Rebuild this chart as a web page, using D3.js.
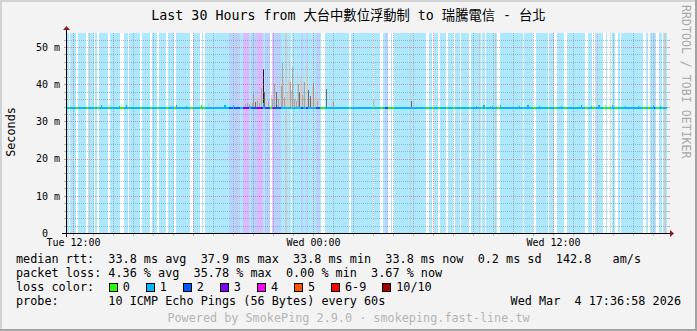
<!DOCTYPE html>
<html>
<head>
<meta charset="utf-8">
<script src="https://cdn.jsdelivr.net/npm/d3@7"></script>
<style>
html, body { margin: 0; padding: 0; background: #f3f3f3; }
svg { display: block; }
text { font-family: "DejaVu Sans Mono", "Noto Sans CJK TC", monospace; white-space: pre; }
</style>
</head>
<body>
<svg width="697" height="331"></svg>
<script>
'use strict';

const chartTitle = 'Last 30 Hours from 大台中數位浮動制 to 瑞騰電信 - 台北';
const yAxisLabel = 'Seconds';
const watermark = 'RRDTOOL / TOBI OETIKER';
const footer = 'Powered by SmokePing 2.9.0 · smokeping.fast-line.tw';
const stamp = 'Wed Mar  4 17:36:58 2026';

// one sample every 3 minutes over 30 hours
const startTime = new Date(2026, 2, 3, 11, 42);
const stepMinutes = 3;
const sampleCount = 600;

const yTop = 53.76;               // ms at top of plot
const yLabelTicks = [0, 10, 20, 30, 40, 50];
const medianMs = 33.8;

// lost pings (of 10) -> colour
const lossColors = ['#26ff00', '#00b8ff', '#0059ff', '#7e00ff', '#ff00ff', '#ff5500',
                    '#ff0000', '#ff0000', '#ff0000', '#ff0000', '#a10000'];
const legendLabels = ['0', '1', '2', '3', '4', '5', '6-9', '10/10'];
const legendLoss = [0, 1, 2, 3, 4, 5, 6, 10];

// [first sample, last sample, lost pings]; every other sample lost 1 of 10
const lossRuns = [
  [2, 2, 0], [9, 10, 0], [19, 20, 0], [27, 27, 0], [30, 31, 0], [41, 42, 0],
  [53, 56, 0], [61, 61, 0], [73, 74, 0], [83, 84, 0], [90, 91, 0], [99, 100, 0],
  [107, 108, 0], [123, 125, 0], [133, 134, 0], [136, 137, 0],
  [162, 165, 2], [167, 172, 2], [176, 181, 3], [184, 189, 2], [190, 195, 3],
  [198, 202, 2], [203, 204, 0], [205, 205, 4], [206, 213, 2], [224, 224, 0],
  [234, 235, 2], [239, 240, 2], [249, 252, 2], [254, 257, 0],
  [282, 283, 0], [306, 306, 0], [313, 315, 0], [318, 320, 2], [321, 323, 0],
  [325, 326, 0], [359, 361, 0], [365, 366, 0], [371, 372, 0], [379, 380, 0],
  [386, 387, 0], [393, 393, 0], [402, 403, 0], [414, 414, 0], [418, 418, 0],
  [430, 432, 0], [456, 456, 0], [466, 468, 0], [481, 481, 0], [487, 489, 0],
  [497, 499, 0], [518, 520, 0], [525, 527, 0], [536, 538, 0], [540, 542, 0],
  [544, 544, 0], [548, 550, 0], [553, 553, 0], [576, 578, 0], [581, 582, 0],
  [587, 587, 2], [589, 591, 0], [595, 595, 0]
];

// samples whose median sits a little above the usual 33.8 ms
const medianBumps = [
  [34, 34.3], [52, 34.2], [59, 34.3], [104, 34.2], [109, 34.3], [119, 34.2],
  [134, 34.3], [157, 34.3], [158, 34.4], [166, 34.3], [183, 34.2], [196, 35.0],
  [209, 34.4], [409, 34.2], [416, 34.4], [417, 34.4], [425, 34.2], [433, 34.3],
  [452, 34.2], [460, 34.3], [461, 34.3], [472, 34.2], [494, 34.2], [514, 34.3],
  [524, 34.2], [531, 34.4], [532, 34.4], [545, 34.3], [558, 34.2], [571, 34.2],
  [586, 34.3], [593, 34.2]
];

// smoke: [sample, highest ping ms, shade 0 light .. 3 black]
const smokeTops = [
  [11, 34.6, 0], [42, 34.4, 0], [141, 35.0, 0], [142, 34.8, 0], [150, 34.3, 0], [158, 34.5, 0],
  [166, 34.6, 0], [174, 35.2, 0], [178, 34.8, 1], [179, 35.8, 0], [180, 35.0, 1], [182, 34.6, 1],
  [184, 36.0, 0], [185, 35.0, 1], [186, 37.3, 1], [187, 36.5, 0], [188, 35.2, 2], [189, 36.8, 0],
  [190, 35.5, 1], [191, 37.0, 0], [192, 35.0, 1], [193, 35.8, 0], [194, 38.9, 1], [195, 36.5, 0],
  [196, 44.2, 3], [197, 38.0, 2], [198, 39.0, 0], [199, 35.0, 0], [200, 36.0, 0], [201, 35.5, 1],
  [204, 37.0, 0], [205, 36.0, 1], [207, 40.0, 1], [208, 41.5, 0], [209, 38.0, 2], [210, 37.0, 0],
  [211, 36.0, 1], [212, 35.0, 0], [213, 43.0, 0], [214, 39.5, 1], [215, 45.7, 1], [216, 41.0, 0],
  [217, 36.5, 1], [220, 38.0, 0], [221, 41.0, 0], [222, 46.5, 0], [223, 40.5, 1], [224, 38.5, 0],
  [225, 44.5, 1], [226, 37.5, 0], [227, 36.0, 1], [228, 36.5, 0], [229, 35.5, 1], [230, 43.0, 0],
  [231, 40.0, 1], [232, 38.0, 2], [233, 42.0, 0], [234, 43.5, 0], [235, 37.0, 1], [236, 39.5, 0],
  [237, 40.5, 1], [238, 36.0, 0], [239, 44.0, 0], [240, 46.0, 0], [241, 38.5, 2], [242, 36.0, 0],
  [243, 36.7, 2], [244, 35.5, 0], [245, 39.6, 0], [246, 40.3, 1], [247, 36.0, 0], [248, 38.0, 0],
  [249, 38.7, 0], [250, 35.5, 1], [251, 36.5, 0], [253, 34.8, 0], [259, 38.7, 2], [264, 35.0, 0],
  [265, 36.0, 0], [266, 35.2, 1], [306, 35.9, 0], [307, 35.5, 0], [344, 35.6, 2], [347, 35.0, 0],
  [452, 35.0, 0], [538, 34.5, 0], [572, 34.5, 0]
];
const smokeShades = ['#cdcdcd', '#a6a6a6', '#6e6e6e', '#1e1e1e'];

// samples with a ping beyond the top of the graph
const offScaleSamples = [22, 169, 218, 219, 343, 412, 428, 530, 584, 597, 598];

const statLines = [
  'median rtt:  33.8 ms avg  37.9 ms max  33.8 ms min  33.8 ms now  0.2 ms sd  142.8   am/s',
  'packet loss: 4.36 % avg  35.78 % max  0.00 % min  3.67 % now',
  'loss color:',
  'probe:       10 ICMP Echo Pings (56 Bytes) every 60s'
];

const svg = d3.select('svg');
const width = +svg.attr('width');
const height = +svg.attr('height');

const plot = { left: 67, top: 33, width: 600, height: 200 };
const plotRight = plot.left + plot.width;
const plotBottom = plot.top + plot.height;

const endTime = d3.timeMinute.offset(startTime, stepMinutes * sampleCount);
const x = d3.scaleTime().domain([startTime, endTime]).range([plot.left, plotRight]);
const y = d3.scaleLinear().domain([0, yTop]).range([plotBottom, plot.top]);

const samples = d3.range(sampleCount).map(i => ({
  i: i,
  t: d3.timeMinute.offset(startTime, i * stepMinutes),
  loss: 1,
  median: medianMs
}));
lossRuns.forEach(([a, b, l]) => { for (let i = a; i <= b; i++) samples[i].loss = l; });
medianBumps.forEach(([i, m]) => { samples[i].median = m; });

const colX = i => x(samples[i].t);
const colW = i => x(d3.timeMinute.offset(samples[i].t, stepMinutes)) - x(samples[i].t);

// frame
svg.append('rect').attr('width', width).attr('height', height).attr('fill', '#f3f3f3');
svg.append('rect').attr('x', 0).attr('y', 0).attr('width', width).attr('height', 2).attr('fill', '#d2d2d2');
svg.append('rect').attr('x', 0).attr('y', 0).attr('width', 2).attr('height', height).attr('fill', '#d2d2d2');
svg.append('rect').attr('x', 0).attr('y', height - 2).attr('width', width).attr('height', 2).attr('fill', '#a3a3a3');
svg.append('rect').attr('x', width - 2).attr('y', 0).attr('width', 2).attr('height', height).attr('fill', '#a3a3a3');

// canvas
svg.append('rect')
    .attr('x', plot.left).attr('y', plot.top)
    .attr('width', plot.width).attr('height', plot.height)
    .attr('fill', '#ffffff');

// loss background
svg.append('g')
  .selectAll('rect')
  .data(samples.filter(d => d.loss > 0))
  .enter()
  .append('rect')
    .attr('x', d => colX(d.i))
    .attr('width', d => colW(d.i))
    .attr('y', plot.top)
    .attr('height', plot.height)
    .attr('fill', d => lossColors[d.loss])
    .attr('fill-opacity', d => d.loss > 1 ? 0.28 : 0.32)
    .attr('shape-rendering', 'crispEdges');

// off-scale smoke columns
svg.append('g')
  .selectAll('rect')
  .data(offScaleSamples)
  .enter()
  .append('rect')
    .attr('x', d => colX(d))
    .attr('width', d => colW(d))
    .attr('y', plot.top)
    .attr('height', plot.height)
    .attr('fill', '#c8c8c8')
    .attr('fill-opacity', 0.8)
    .attr('shape-rendering', 'crispEdges');

// smoke
svg.append('g')
  .selectAll('rect')
  .data(smokeTops)
  .enter()
  .append('rect')
    .attr('x', d => colX(d[0]))
    .attr('width', d => colW(d[0]))
    .attr('y', d => y(d[1]))
    .attr('height', d => y(samples[d[0]].median) - y(d[1]))
    .attr('fill', d => smokeShades[d[2]])
    .attr('shape-rendering', 'crispEdges');

// grid
const minorGrid = 'rgba(130,130,130,0.5)';
const majorGrid = 'rgba(215,60,60,0.5)';
const yGridVals = d3.range(2, yTop, 2);
const hours = d3.timeHour.range(startTime, endTime);
const isMajorY = v => v % 10 === 0;
const isMajorX = t => t.getHours() % 6 === 0;

const grid = svg.append('g').attr('shape-rendering', 'crispEdges');
grid.selectAll('.hgrid')
  .data(yGridVals)
  .enter()
  .append('line')
    .attr('class', 'hgrid')
    .attr('x1', plot.left).attr('x2', plotRight)
    .attr('y1', d => Math.round(y(d)) + 0.5).attr('y2', d => Math.round(y(d)) + 0.5)
    .attr('stroke', d => isMajorY(d) ? majorGrid : minorGrid)
    .attr('stroke-dasharray', '1,1');
grid.selectAll('.htick')
  .data(yGridVals.concat(yGridVals))
  .enter()
  .append('line')
    .attr('class', 'htick')
    .attr('x1', (d, i) => i < yGridVals.length ? plot.left - 3 : plotRight)
    .attr('x2', (d, i) => i < yGridVals.length ? plot.left : plotRight + 3)
    .attr('y1', d => Math.round(y(d)) + 0.5).attr('y2', d => Math.round(y(d)) + 0.5)
    .attr('stroke', d => isMajorY(d) ? majorGrid : minorGrid);
grid.selectAll('.vgrid')
  .data(hours)
  .enter()
  .append('line')
    .attr('class', 'vgrid')
    .attr('y1', plot.top).attr('y2', plotBottom)
    .attr('x1', d => Math.round(x(d)) + 0.5).attr('x2', d => Math.round(x(d)) + 0.5)
    .attr('stroke', d => isMajorX(d) ? majorGrid : minorGrid)
    .attr('stroke-dasharray', '1,1');
grid.selectAll('.vtick')
  .data(hours)
  .enter()
  .append('line')
    .attr('class', 'vtick')
    .attr('y1', plotBottom)
    .attr('y2', plotBottom + 3)
    .attr('x1', d => Math.round(x(d)) + 0.5).attr('x2', d => Math.round(x(d)) + 0.5)
    .attr('stroke', d => isMajorX(d) ? majorGrid : minorGrid);

// median rtt, coloured by loss
svg.append('g')
  .selectAll('rect')
  .data(samples)
  .enter()
  .append('rect')
    .attr('x', d => colX(d.i))
    .attr('width', d => colW(d.i))
    .attr('y', d => Math.round(y(d.median)))
    .attr('height', d => Math.round(y(medianMs)) + 2 - Math.round(y(d.median)))
    .attr('fill', d => lossColors[d.loss])
    .attr('shape-rendering', 'crispEdges');

// axes
const axisG = svg.append('g').attr('shape-rendering', 'crispEdges');
axisG.append('line')
    .attr('x1', plot.left - 5).attr('x2', plotRight + 4)
    .attr('y1', plotBottom + 0.5).attr('y2', plotBottom + 0.5)
    .attr('stroke', '#000');
axisG.append('line')
    .attr('x1', plot.left - 0.5).attr('x2', plot.left - 0.5)
    .attr('y1', plotBottom + 4).attr('y2', plot.top - 4)
    .attr('stroke', '#000');
svg.append('path')
    .attr('d', `M${plotRight + 3},${plotBottom - 3}L${plotRight + 7},${plotBottom + 0.5}L${plotRight + 3},${plotBottom + 4}Z`)
    .attr('fill', '#8b1a1a');
svg.append('path')
    .attr('d', `M${plot.left - 4},${plot.top - 3}L${plot.left - 0.5},${plot.top - 7}L${plot.left + 3},${plot.top - 3}Z`)
    .attr('fill', '#8b1a1a');

const labelTimes = hours.filter(t => t.getHours() % 12 === 0);
const xAxis = svg.append('g')
    .attr('transform', `translate(0,${plotBottom})`)
    .call(d3.axisBottom(x).tickValues(labelTimes).tickFormat(d3.timeFormat('%a %H:%M')).tickSize(0).tickPadding(6));
xAxis.select('.domain').remove();
xAxis.attr('font-family', null);
xAxis.selectAll('text')
    .style('font-size', '10px')
    .attr('fill', '#000');

// the zero label has no unit; rrdtool leaves the unit's room blank
const yAxis = svg.append('g')
    .attr('transform', `translate(${plot.left},0)`)
    .call(d3.axisLeft(y).tickValues(yLabelTicks).tickFormat(v => v === 0 ? '0' : v + ' m').tickSize(0).tickPadding(7));
yAxis.select('.domain').remove();
yAxis.attr('font-family', null);
yAxis.selectAll('text')
    .style('font-size', '10px')
    .attr('fill', '#000')
    .attr('dx', d => d === 0 ? -12 : 0);

// titles
svg.append('text')
    .attr('x', width / 2).attr('y', 20)
    .attr('text-anchor', 'middle')
    .style('font-size', '13.3px')
    .attr('fill', '#000')
    .text(chartTitle);

svg.append('text')
    .attr('transform', 'translate(15,132) rotate(-90)')
    .attr('text-anchor', 'middle')
    .style('font-size', '11.8px')
    .attr('fill', '#000')
    .text(yAxisLabel);

svg.append('text')
    .attr('transform', 'translate(682,5) rotate(90)')
    .style('font-size', '11.6px')
    .attr('fill', '#a8a8a8')
    .text(watermark);

// legend
const charW = 7.12;
const legendY = [263, 277, 291, 305];
svg.selectAll('.stat')
  .data(statLines)
  .enter()
  .append('text')
    .attr('class', 'stat')
    .attr('x', 16)
    .attr('y', (d, i) => legendY[i])
    .style('font-size', '11.8px')
    .attr('fill', '#000')
    .text(d => d);

let boxX = 16 + 13 * charW;
const boxes = legendLabels.map((label, i) => {
  const b = { label: label, color: lossColors[legendLoss[i]], x: boxX };
  boxX += (label.length + 4.2) * charW;
  return b;
});
const legendItems = svg.selectAll('.lossbox')
  .data(boxes)
  .enter()
  .append('g')
    .attr('class', 'lossbox');
legendItems.append('rect')
    .attr('x', d => Math.round(d.x) + 0.5)
    .attr('y', 283.5)
    .attr('width', 8).attr('height', 8)
    .attr('fill', d => d.color)
    .attr('stroke', '#000')
    .attr('shape-rendering', 'crispEdges');
legendItems.append('text')
    .attr('x', d => d.x + 2 * charW)
    .attr('y', legendY[2])
    .style('font-size', '11.8px')
    .attr('fill', '#000')
    .text(d => d.label);

svg.append('text')
    .attr('x', 681).attr('y', legendY[3])
    .attr('text-anchor', 'end')
    .style('font-size', '11.8px')
    .attr('fill', '#000')
    .text(stamp);

svg.append('text')
    .attr('x', width / 2).attr('y', 322)
    .attr('text-anchor', 'middle')
    .style('font-size', '11.8px')
    .attr('fill', '#b4b4b4')
    .text(footer);
</script>
</body>
</html>
